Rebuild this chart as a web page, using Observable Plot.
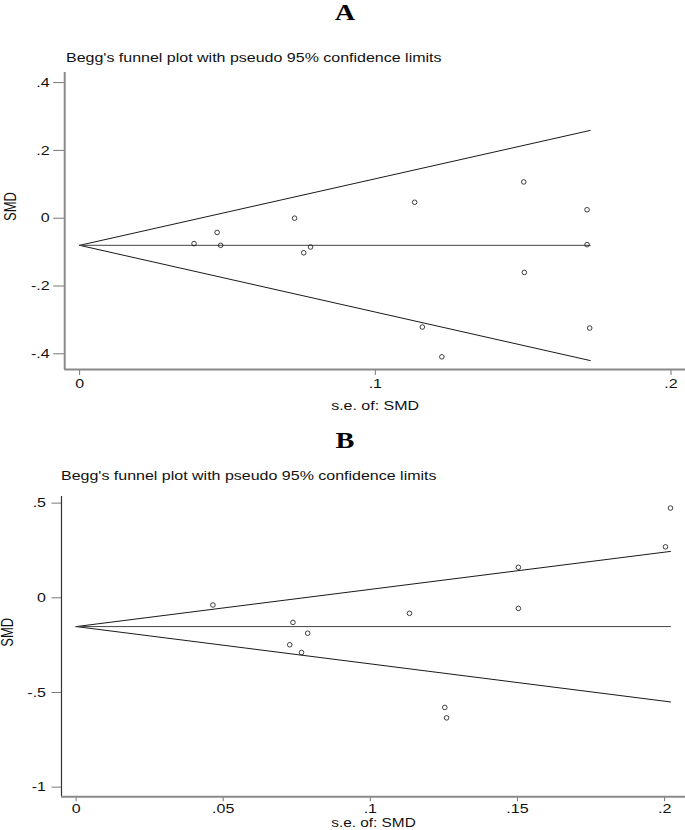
<!DOCTYPE html>
<html>
<head>
<meta charset="utf-8">
<script src="https://cdn.jsdelivr.net/npm/d3@7"></script>
<script src="https://cdn.jsdelivr.net/npm/@observablehq/plot@0.6"></script>
<style>
  html, body { margin: 0; padding: 0; background: #fff; }
  #wrap { position: relative; width: 685px; height: 830px; overflow: hidden; background: #fff; }
  .panel { position: absolute; left: 0; }
  .head { position: absolute; font-family: "Liberation Serif", "Times New Roman", serif; font-weight: bold;
          font-size: 23px; line-height: 23px; color: #000; white-space: nowrap;
          transform: translateX(-50%) scaleX(1.23); transform-origin: center; z-index: 2; }
  .sub { position: absolute; font-family: "Liberation Sans", Arial, sans-serif; font-size: 13px; line-height: 13px;
         color: #111; white-space: nowrap; transform: scaleX(1.23); transform-origin: left; z-index: 2; }
</style>
</head>
<body>
<div id="wrap">
  <div class="panel" id="pA" style="top:0px"></div>
  <div class="panel" id="pB" style="top:418px"></div>
  <div class="head" style="left:345px; top:1px;">A</div>
  <div class="sub" style="left:65.5px; top:50.7px;">Begg's funnel plot with pseudo 95% confidence limits</div>
  <div class="head" style="left:345px; top:429px;">B</div>
  <div class="sub" style="left:61.2px; top:469px;">Begg's funnel plot with pseudo 95% confidence limits</div>
</div>
<script>
// ---------- Panel A data ----------
const seA  = [0.0387, 0.0465, 0.0477, 0.0727, 0.0758, 0.0781, 0.1133, 0.1502, 0.1716, 0.1716, 0.1504, 0.1159, 0.1225, 0.1725];
const smdA = [-0.075, -0.042, -0.080, 0.000, -0.102, -0.085, 0.047, 0.107, 0.025, -0.078, -0.160, -0.321, -0.409, -0.324];
const funnelSeA    = [0, 0.1727];
const funnelUpperA = [-0.08, 0.259];
const funnelLowerA = [-0.08, -0.420];
const pooledA      = [-0.08, -0.08];
const xTicksA = [0, 0.1, 0.2];
const xTickLabelsA = ["0", ".1", ".2"];
const yTicksA = [-0.4, -0.2, 0, 0.2, 0.4];
const yTickLabelsA = ["-.4", "-.2", "0", ".2", ".4"];

// ---------- Panel B data ----------
const seB  = [0.0465, 0.0726, 0.0737, 0.0766, 0.0787, 0.1133, 0.1253, 0.1259, 0.1503, 0.1503, 0.2003, 0.2020];
const smdB = [-0.038, -0.248, -0.130, -0.289, -0.187, -0.082, -0.579, -0.634, 0.161, -0.056, 0.269, 0.474];
const funnelSeB    = [0, 0.2020];
const funnelUpperB = [-0.152, 0.245];
const funnelLowerB = [-0.152, -0.550];
const pooledB      = [-0.152, -0.152];
const xTicksB = [0, 0.05, 0.1, 0.15, 0.2];
const xTickLabelsB = ["0", ".05", ".1", ".15", ".2"];
const yTicksB = [-1, -0.5, 0, 0.5];
const yTickLabelsB = ["-1", "-.5", "0", ".5"];

const xLabel = "s.e. of: SMD";
const yLabel = "SMD";

const STRETCH = 1.23;

function stretchText(svg, f) {
  svg.querySelectorAll("text").forEach(t => {
    const tr = t.getAttribute("transform");
    if (tr && /rotate/.test(tr)) {
      t.setAttribute("transform", tr + ` scale(1,${f})`);
    } else if (tr) {
      t.setAttribute("transform", tr + ` scale(${f},1)`);
    } else {
      const x = +t.getAttribute("x") || 0, y = +t.getAttribute("y") || 0;
      t.removeAttribute("x"); t.removeAttribute("y");
      t.setAttribute("transform", `translate(${x},${y}) scale(${f},1)`);
    }
  });
}

function funnel(cfg) {
  const pts = cfg.se.map((s, i) => ({se: s, smd: cfg.smd[i]}));
  const line = (ys) => cfg.fse.map((s, i) => ({se: s, smd: ys[i]}));
  const fmtX = new Map(cfg.xTicks.map((t, i) => [t, cfg.xLabels[i]]));
  const fmtY = new Map(cfg.yTicks.map((t, i) => [t, cfg.yLabels[i]]));
  const svg = Plot.plot({
    width: 685,
    height: cfg.height,
    marginLeft: cfg.marginLeft,
    marginRight: 0,
    marginTop: cfg.marginTop,
    marginBottom: cfg.marginBottom,
    x: {domain: cfg.xDomain},
    y: {domain: cfg.yDomain},
    style: {fontFamily: "'Liberation Sans', Arial, sans-serif", fontSize: "13px", background: "none", color: "#111", overflow: "visible"},
    marks: [
      Plot.line(line(cfg.upper), {x: "se", y: "smd", stroke: "#1a1a1a", strokeWidth: 1}),
      Plot.line(line(cfg.lower), {x: "se", y: "smd", stroke: "#1a1a1a", strokeWidth: 1}),
      Plot.line(line(cfg.pooled), {x: "se", y: "smd", stroke: "#444", strokeWidth: 1}),
      Plot.dot(pts, {x: "se", y: "smd", r: 2.3, stroke: "#111", strokeWidth: 0.8, fill: "none"}),
      Plot.axisY({ticks: cfg.yTicks, tickFormat: d => fmtY.get(d), tickSize: cfg.yTickSize, tickPadding: cfg.yTickPadding,
                  stroke: "#777", label: null, fill: "#111"}),
      Plot.axisX({ticks: cfg.xTicks, tickFormat: d => fmtX.get(d), tickSize: cfg.xTickSize, tickPadding: cfg.xTickPadding,
                  stroke: "#777", label: null, fill: "#111"}),
      Plot.ruleX([cfg.xDomain[0]], {stroke: cfg.yAxisColor, strokeWidth: cfg.yAxisWidth}),
      Plot.ruleY([cfg.yDomain[0]], {stroke: "#8a8a8a", strokeWidth: 2}),
      Plot.text([xLabel], {text: d => d, frameAnchor: "bottom", dy: cfg.xLabelDy, lineAnchor: "middle", fill: "#111", fontSize: cfg.xLabelSize}),
      Plot.text([yLabel], {text: d => d, frameAnchor: "left", dx: cfg.yLabelDx, rotate: -90, lineAnchor: "middle", fill: "#111"})
    ]
  });
  stretchText(svg, STRETCH);
  return svg;
}

document.getElementById("pA").appendChild(funnel({
  se: seA, smd: smdA, fse: funnelSeA, upper: funnelUpperA, lower: funnelLowerA, pooled: pooledA,
  xTicks: xTicksA, xLabels: xTickLabelsA, yTicks: yTicksA, yLabels: yTickLabelsA,
  height: 420, marginLeft: 64.2, marginTop: 72, marginBottom: 51,
  xDomain: [-0.00504, 0.2049], yDomain: [-0.4463, 0.4298],
  yTickSize: 11, yTickPadding: 4, yAxisColor: "#8a8a8a", yAxisWidth: 2,
  xTickSize: 6, xTickPadding: 3, xLabelSize: 13,
  xLabelDy: 36.5, yLabelDx: -53.7
}));

document.getElementById("pB").appendChild(funnel({
  se: seB, smd: smdB, fse: funnelSeB, upper: funnelUpperB, lower: funnelLowerB, pooled: pooledB,
  xTicks: xTicksB, xLabels: xTickLabelsB, yTicks: yTicksB, yLabels: yTickLabelsB,
  height: 412, marginLeft: 61, marginTop: 78, marginBottom: 33.7,
  xDomain: [-0.00496, 0.2071], yDomain: [-1.051, 0.535],
  yTickSize: 9.5, yTickPadding: 6, yAxisColor: "#333", yAxisWidth: 1.2,
  xTickSize: 5, xTickPadding: 2, xLabelSize: 12.5,
  xLabelDy: 26.3, yLabelDx: -53.4
}));
</script>
</body>
</html>
